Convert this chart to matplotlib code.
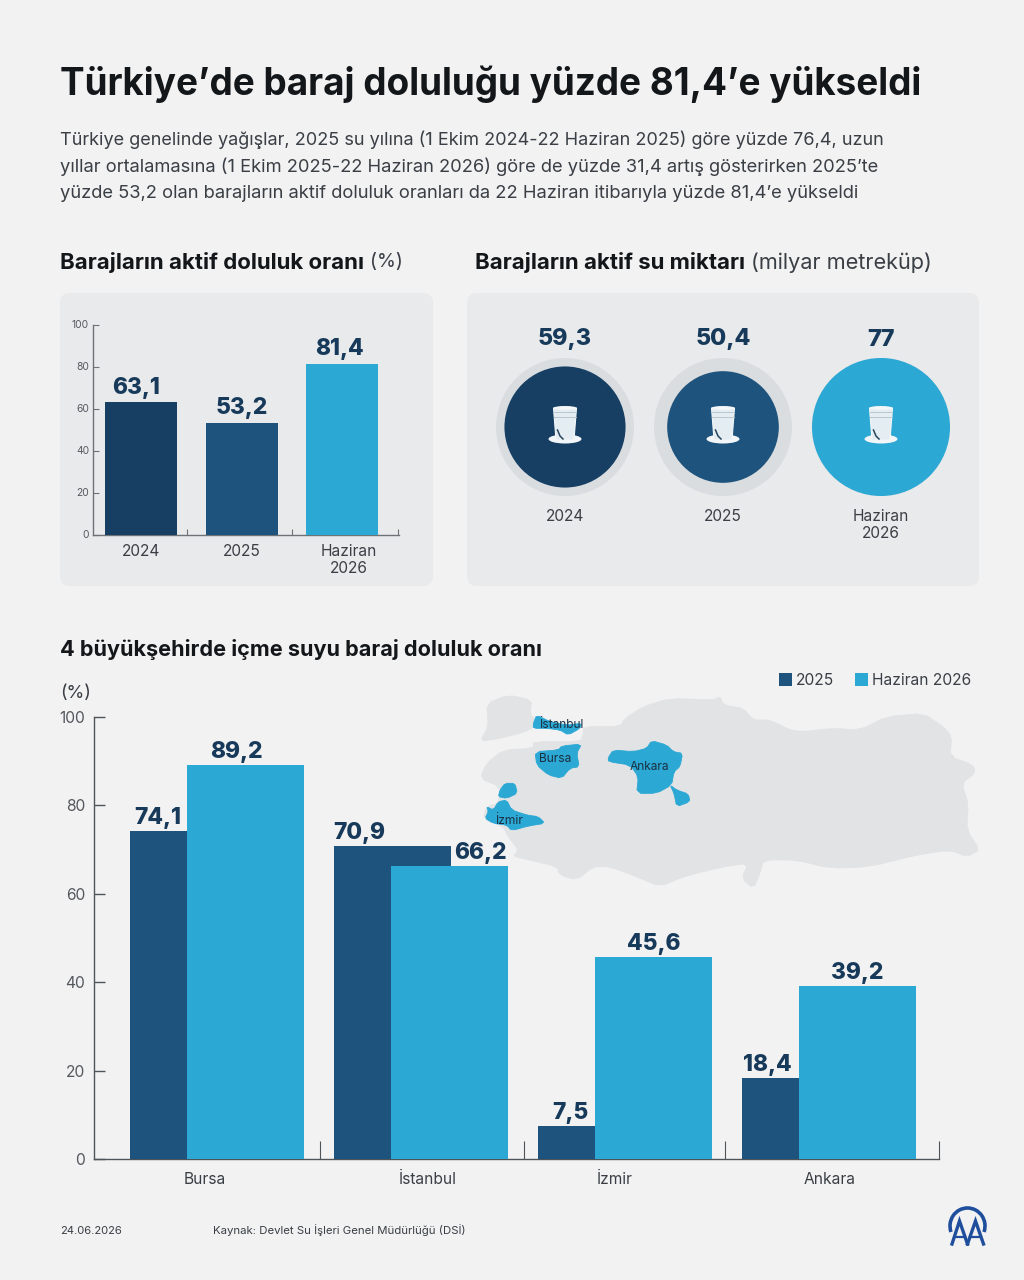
import numpy as np
import matplotlib
matplotlib.use("Agg")
import matplotlib.pyplot as plt
from matplotlib.patches import Circle, Ellipse, FancyBboxPatch, Polygon, Rectangle, Arc

plt.rcParams['font.family'] = ['Inter', 'DejaVu Sans']

BG = '#f2f2f3'
PANEL = '#e9eaec'
DARK = '#173f63'
MID = '#1d537d'
LIGHT = '#2ba8d4'
INK = '#22262b'
VALUE = '#173a5a'
GREY = '#54585d'
LOGO = '#1f4f9c'

# doluluk orani
years = ['2024', '2025', 'Haziran\n2026']
fill_rates = [63.1, 53.2, 81.4]
fill_labels = ['63,1', '53,2', '81,4']

# su miktari
volumes = [59.3, 50.4, 77]
volume_labels = ['59,3', '50,4', '77']
volume_colors = [DARK, MID, LIGHT]

# 4 buyuksehir
cities = ['Bursa', 'İstanbul', 'İzmir', 'Ankara']
city_2025 = [74.1, 70.9, 7.5, 18.4]
city_2026 = [89.2, 66.2, 45.6, 39.2]
labels_2025 = ['74,1', '70,9', '7,5', '18,4']
labels_2026 = ['89,2', '66,2', '45,6', '39,2']

paragraph = [
    'Türkiye genelinde yağışlar, 2025 su yılına (1 Ekim 2024-22 Haziran 2025) göre yüzde 76,4, uzun',
    'yıllar ortalamasına (1 Ekim 2025-22 Haziran 2026) göre de yüzde 31,4 artış gösterirken 2025’te',
    'yüzde 53,2 olan barajların aktif doluluk oranları da 22 Haziran itibarıyla yüzde 81,4’e yükseldi',
]

# harita konturlari
anatolia = [(340, 170), (450, 170), (465, 145), (520, 110), (600, 85), (730, 90), (750, 80), (760, 105),
            (820, 115), (850, 150), (900, 150), (960, 180), (1000, 185), (1090, 175), (1170, 180),
            (1250, 140), (1360, 130), (1420, 170), (1445, 200), (1440, 260), (1510, 285), (1515, 310),
            (1475, 340), (1495, 400), (1490, 480), (1530, 540), (1490, 560), (1440, 540), (1340, 555),
            (1200, 590), (1080, 595), (980, 570), (880, 570), (870, 610), (850, 655), (815, 625),
            (835, 580), (760, 590), (640, 620), (570, 650), (500, 620), (420, 590), (370, 590),
            (320, 630), (270, 615), (260, 590), (180, 570), (130, 560), (145, 540), (115, 500),
            (100, 470), (40, 445), (50, 410), (85, 400), (90, 350), (30, 325), (50, 280), (100, 240),
            (190, 235), (190, 215), (330, 215), (340, 195)]
thrace = [(30, 215), (55, 170), (50, 100), (115, 75), (185, 90), (180, 130), (195, 150), (188, 175),
          (150, 190), (90, 205)]
istanbul = [(200, 135), (240, 155), (290, 165), (335, 160), (330, 175), (295, 195), (270, 180), (230, 175),
            (190, 175), (190, 160)]
bursa = [(195, 245), (265, 240), (275, 228), (335, 222), (320, 250), (328, 290), (300, 295), (275, 325),
         (235, 315), (200, 285)]
ankara = [(430, 240), (490, 245), (530, 235), (545, 212), (590, 225), (610, 245), (638, 250), (630, 290),
          (612, 305), (605, 345), (560, 370), (500, 370), (505, 320), (480, 285), (415, 275), (415, 262)]
ankara_south = [(600, 345), (620, 360), (655, 372), (660, 395), (620, 410), (612, 370)]
izmir_north = [(105, 340), (135, 340), (142, 370), (110, 385), (85, 380), (90, 360)]
izmir_south = [(50, 410), (70, 420), (85, 395), (110, 390), (125, 420), (170, 435), (205, 440), (225, 460),
               (175, 468), (125, 482), (110, 465), (70, 460), (45, 445), (55, 425)]


def px_axes(left, top, right, bottom):
    return fig.add_axes([left / 1024, 1 - bottom / 1280, (right - left) / 1024, (bottom - top) / 1280])


def put(x, y, s, size=12, width=None, weight='normal', color=INK, ha='left', **kw):
    # size piksel cinsinden, width verilirse yazi o genislige oturtulur
    t = page.text(x, y + 1.5, s, fontsize=size * 0.72, fontweight=weight, color=color, ha=ha, va='center', **kw)
    if width:
        w = t.get_window_extent(fig.canvas.get_renderer()).width
        t.set_fontsize(t.get_fontsize() * width / w)
    return t


def chaikin(pts):
    # koseleri yumusatmak icin tek gecis
    out = []
    n = len(pts)
    for i in range(n):
        a, b = np.array(pts[i], float), np.array(pts[(i + 1) % n], float)
        out += [0.8 * a + 0.2 * b, 0.2 * a + 0.8 * b]
    return out


def map_shape(points, color, z=1):
    pts = [(470 + a / 3, 670 + b / 3) for a, b in points]
    page.add_patch(Polygon(chaikin(pts), closed=True, fc=color, ec=color, lw=0.6, joinstyle='round', zorder=z))


def style_axis(ax, color, size, pad):
    for side in ['top', 'right']:
        ax.spines[side].set_visible(False)
    for side in ['left', 'bottom']:
        ax.spines[side].set_color(color)
        ax.spines[side].set_linewidth(1)
    ax.patch.set_alpha(0)
    ax.tick_params(axis='y', direction='in', color=color, labelcolor=GREY, labelsize=size, pad=pad)


def glass(cx, cy):
    page.add_patch(Ellipse((cx, cy + 13), 33, 9, fc='#f2f6f8', ec='none', zorder=5))
    body = [(cx - 11.5, cy - 18), (cx + 11.5, cy - 18), (cx + 9, cy + 14), (cx - 9, cy + 14)]
    page.add_patch(Polygon(body, closed=True, fc='#e4edf1', ec='#f4f7f8', lw=0.8, zorder=6))
    page.add_patch(Ellipse((cx, cy - 18), 23, 4, fc='#f4f7f8', ec='none', zorder=7))
    for dy in [-14, -9]:
        page.plot([cx - 11, cx + 11], [cy + dy, cy + dy], color='#b9c6ce', lw=0.7, zorder=7)
    page.plot([cx - 7.5, cx - 5, cx - 2], [cy + 4, cy + 10, cy + 13], color='#29465f', lw=1.1, zorder=7)


fig = plt.figure(figsize=(10.24, 12.8), dpi=100, facecolor=BG)
page = fig.add_axes([0, 0, 1, 1])
page.set_xlim(0, 1024)
page.set_ylim(1280, 0)
page.axis('off')

# baslik ve giris metni
put(60, 83, 'Türkiye’de baraj doluluğu yüzde 81,4’e yükseldi', size=37, width=861, weight='bold', color='#14171a')
for line, y, w in zip(paragraph, [138, 165, 192], [825, 822, 804]):
    put(60, y, line, size=18, width=w, color='#3a3f45')

# bolum basliklari
put(60, 261, 'Barajların aktif doluluk oranı', size=22, width=304, weight='bold', color='#14171a')
put(370, 261, '(%)', size=22, width=33, color='#3a3f45')
put(475, 261, 'Barajların aktif su miktarı', size=22, width=270, weight='bold', color='#14171a')
put(751, 261, '(milyar metreküp)', size=22, width=182, color='#3a3f45')
put(60, 648, '4 büyükşehirde içme suyu baraj doluluk oranı', size=22, width=481, weight='bold', color='#14171a')

# paneller
for x0, x1 in [(60, 433), (467, 979)]:
    page.add_patch(FancyBboxPatch((x0 + 10, 303), x1 - x0 - 20, 273, boxstyle='round,pad=10,rounding_size=10',
                                  fc=PANEL, ec='none', zorder=0))

# ust sol: doluluk orani
ax1 = px_axes(92.5, 324.5, 398.5, 534.5)
ax1.set_xlim((92.5 - 141) / 100.5, (398.5 - 141) / 100.5)
ax1.set_ylim(0, 100)
ax1.bar(range(3), fill_rates, width=72 / 100.5, color=[DARK, MID, LIGHT], zorder=3)
style_axis(ax1, '#6d7277', 7.4, 2.5)
ax1.set_yticks([0, 20, 40, 60, 80, 100])
ax1.tick_params(axis='y', length=4, width=0.8)
ax1.set_xticks([0.46, 1.5, 2.56])
ax1.set_xticklabels([])
ax1.tick_params(axis='x', direction='in', length=4, color='#6d7277')
fill_label_x = [136, 242, 339.5]
for v, s, x in zip(fill_rates, fill_labels, fill_label_x):
    ax1.annotate(s, ((x - 141) / 100.5, v), xytext=(0, 2.5), textcoords='offset points', ha='center', va='bottom',
                 fontsize=16.4, fontweight=800, color=VALUE)
for name, x in zip(years, [141, 241.5, 349]):
    for k, part in enumerate(name.split('\n')):
        put(x, 550 + k * 17, part, size=15.5, color='#3a3f45', ha='center')

# ust sag: su miktari, daire alani degerle orantili
centers = [565, 723, 881]
ring_r = 69
for cx, v, s, name, color in zip(centers, volumes, volume_labels, years, volume_colors):
    page.add_patch(Circle((cx, 427), ring_r, fc='#d9dde0', ec='none', zorder=2))
    r = ring_r * np.sqrt(v / max(volumes))
    page.add_patch(Circle((cx, 427), r, fc=color, ec='none', zorder=3))
    glass(cx, 426)
    put(cx, 338, s, size=23.3, weight=800, color=VALUE, ha='center')
    for k, part in enumerate(name.split('\n')):
        put(cx, 515 + k * 17, part, size=15.5, color='#3a3f45', ha='center')

# harita
map_shape(anatolia, '#e2e3e5')
map_shape(thrace, '#e2e3e5')
for shape in [istanbul, bursa, ankara, ankara_south, izmir_north, izmir_south]:
    map_shape(shape, LIGHT, z=2)
for x, y, s in [(561, 723, 'İstanbul'), (555, 758, 'Bursa'), (649, 765, 'Ankara'), (509, 820, 'İzmir')]:
    put(x, y, s, size=12, color='#1b2f42', ha='center', zorder=3)

# lejant
for x, c, s, w in [(779, MID, '2025', 38), (855, LIGHT, 'Haziran 2026', 99)]:
    page.add_patch(Rectangle((x, 673), 13, 13, fc=c, ec='none'))
    put(x + 17, 679, s, size=15.5, width=w, color='#3a3f45')

# alt grafik
x0_px, step = 130, 204
bar_w = 117 / step
ax2 = px_axes(94, 717, 939, 1159)
ax2.set_xlim((94 - x0_px) / step, (939 - x0_px) / step)
ax2.set_ylim(0, 100)
pos = np.arange(len(cities))
ax2.bar(pos, city_2025, width=bar_w, align='edge', color=MID, zorder=3)
ax2.bar(pos + 57 / step, city_2026, width=bar_w, align='edge', color=LIGHT, zorder=4)
style_axis(ax2, '#4f5459', 11.2, 6.5)
ax2.set_yticks([0, 20, 40, 60, 80, 100])
ax2.tick_params(axis='y', length=8, width=1)
ax2.set_xticks([(x - x0_px) / step for x in [320, 524, 725, 939]])
ax2.set_xticklabels([])
ax2.tick_params(axis='x', direction='in', length=13, width=0.8, color='#4f5459')

# deger etiketleri, kucuk sayilar gorunen cubuk parcasinin ustunde
x_2025 = [158, 359, 570, 767]
x_2026 = [236, 480, 654, 857]
for vals, labs, xs in [(city_2025, labels_2025, x_2025), (city_2026, labels_2026, x_2026)]:
    for v, s, x in zip(vals, labs, xs):
        ax2.annotate(s, (((x - x0_px) / step), v), xytext=(0, 1.5), textcoords='offset points', ha='center',
                     va='bottom', fontsize=16.4, fontweight=800, color=VALUE, zorder=6)

for x, s in zip([205, 428, 615, 830], cities):
    put(x, 1178, s, size=15.5, color='#3a3f45', ha='center')
put(60, 692, '(%)', size=17, width=31, color='#3a3f45')

# alt bilgi
put(60, 1229, '24.06.2026', size=12, width=62, color='#3a3f45')
put(213, 1229, 'Kaynak: Devlet Su İşleri Genel Müdürlüğü (DSİ)', size=12, width=253, color='#3a3f45')

# ajans logosu
page.add_patch(Arc((967.5, 1226), 35, 36, theta1=160, theta2=380, color=LOGO, lw=2.6))
for apex, left, right in [(959.5, 952, 967.5), (975.5, 967.5, 983.5)]:
    page.plot([left, apex, right], [1244, 1221, 1244], color=LOGO, lw=2.4, solid_joinstyle='miter')
    page.plot([left + 2.5, right - 2.5], [1237, 1237], color=LOGO, lw=1.6)

page.set_xlim(0, 1024)
page.set_ylim(1280, 0)
fig.savefig('out.png', dpi=100, facecolor=BG)
